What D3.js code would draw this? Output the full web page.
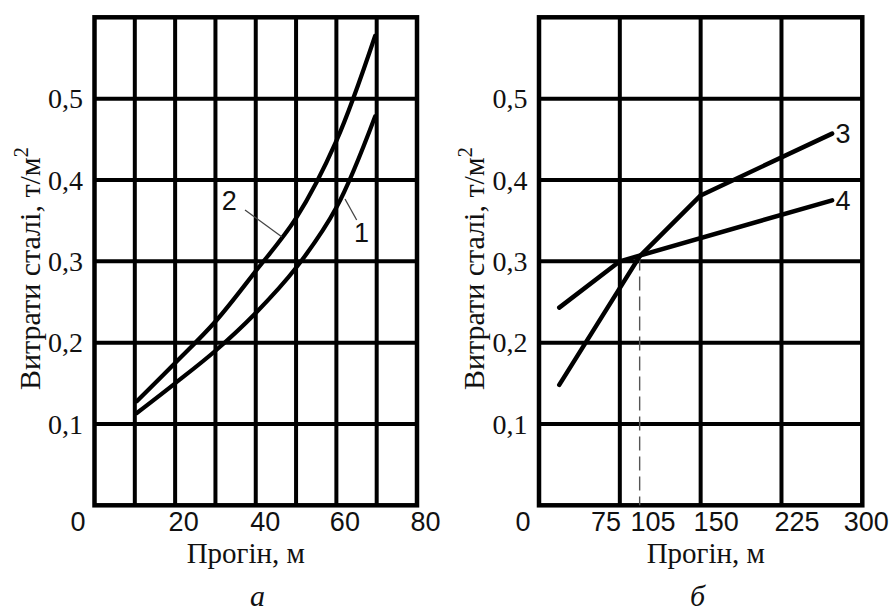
<!DOCTYPE html>
<html>
<head>
<meta charset="utf-8">
<script src="https://cdn.jsdelivr.net/npm/d3@7"></script>
<style>
  html, body { margin: 0; padding: 0; background: #fff; }
  svg { display: block; }
</style>
</head>
<body>
<svg id="chart" width="894" height="613"></svg>
<script>
// ---------- data ----------
const spanA = [10.5, 20, 30, 40, 50, 60, 69.6];
const steel1 = [0.1135, 0.150, 0.190, 0.2365, 0.292, 0.366, 0.478];
const steel2 = [0.128, 0.175, 0.226, 0.288, 0.353, 0.448, 0.577];

const spanB3 = [18.8, 93.4, 150, 272];
const steel3 = [0.148, 0.306, 0.381, 0.457];
const spanB4 = [18.8, 75, 272];
const steel4 = [0.243, 0.300, 0.375];

const crossSpan = 93.4;
const crossSteel = 0.306;

const xTicksA = [0, 20, 40, 60, 80];
const xTicksB = [0, 75, 105, 150, 225, 300];
const yTicks = [0.1, 0.2, 0.3, 0.4, 0.5];
const gridA = [10, 20, 30, 40, 50, 60, 70];
const gridB = [75, 150, 225];

const yTitle = "Витрати сталі, т/м";
const xTitle = "Прогін, м";
const panelNames = ["а", "б"];

// ---------- layout ----------
const svg = d3.select("#chart");
const SERIF = "'Liberation Serif', 'Times New Roman', serif";
const SANS = "'Liberation Sans', Arial, sans-serif";

const y = d3.scaleLinear().domain([0, 0.6]).range([505.3, 17.3]);
const xA = d3.scaleLinear().domain([0, 80]).range([94.5, 417]);
const xB = d3.scaleLinear().domain([0, 300]).range([539, 862.3]);

const tickDxA = {0: -17, 20: 8, 40: 9, 60: 8, 80: 8};
const tickDxB = {0: -16.5, 75: -14.4, 105: 0.4, 150: 15, 225: 15, 300: 3.5};

function panel(x, grid, xTicks, tickDx, titleX) {
  const g = svg.append("g");
  // grid
  g.selectAll("line.v").data(grid).enter().append("line")
    .attr("x1", d => x(d)).attr("x2", d => x(d))
    .attr("y1", y(0)).attr("y2", y(0.6))
    .attr("stroke", "#000").attr("stroke-width", 4);
  g.selectAll("line.h").data(yTicks).enter().append("line")
    .attr("x1", x.range()[0]).attr("x2", x.range()[1])
    .attr("y1", d => y(d)).attr("y2", d => y(d))
    .attr("stroke", "#000").attr("stroke-width", 4);
  // frame
  g.append("rect")
    .attr("x", x.range()[0]).attr("y", y(0.6))
    .attr("width", x.range()[1] - x.range()[0])
    .attr("height", y(0) - y(0.6))
    .attr("fill", "none").attr("stroke", "#000").attr("stroke-width", 4.5);

  // x axis labels
  const ax = g.append("g").attr("transform", `translate(0,${y(0)})`)
    .call(d3.axisBottom(x).tickValues(xTicks).tickSize(0).tickPadding(0).tickFormat(d3.format("d")));
  ax.select(".domain").remove();
  ax.selectAll("text")
    .attr("font-family", SANS).attr("font-size", 27).attr("fill", "#111")
    .attr("y", 26).attr("dy", 0)
    .attr("dx", d => tickDx[d] || 0);

  // y axis labels
  const ay = g.append("g").attr("transform", `translate(${x.range()[0]},0)`)
    .call(d3.axisLeft(y).tickValues(yTicks).tickSize(0).tickPadding(11.5)
      .tickFormat(d => d.toFixed(1).replace(".", ",")));
  ay.select(".domain").remove();
  ay.selectAll("text")
    .attr("font-family", SERIF).attr("font-size", 28).attr("fill", "#111")
    .attr("dy", "0.33em");

  // y title
  const yt = g.append("text")
    .attr("transform", `translate(${x.range()[0] - 55},390) rotate(-90)`)
    .attr("font-family", SERIF).attr("font-size", 30).attr("fill", "#111")
    .attr("text-anchor", "start");
  yt.append("tspan").text(yTitle);
  yt.append("tspan").attr("font-size", 20).attr("dy", -12).text("2");

  // x title
  g.append("text").attr("x", titleX).attr("y", 563)
    .attr("font-family", SERIF).attr("font-size", 29).attr("fill", "#111")
    .attr("text-anchor", "middle").text(xTitle);
  return g;
}

const gA = panel(xA, gridA, xTicksA, tickDxA, 245.8);
const gB = panel(xB, gridB, xTicksB, tickDxB, 705.8);

// panel names
svg.selectAll("text.pname").data(panelNames).enter().append("text")
  .attr("x", (d, i) => i === 0 ? 257.5 : 697.5).attr("y", 606)
  .attr("font-family", SERIF).attr("font-style", "italic").attr("font-size", 30)
  .attr("fill", "#111").attr("text-anchor", "middle").text(d => d);

// ---------- curves panel a ----------
const lineA = d3.line().x(d => xA(d[0])).y(d => y(d[1])).curve(d3.curveCatmullRom.alpha(0.5));
[steel1, steel2].forEach(s => {
  gA.append("path").datum(spanA.map((v, i) => [v, s[i]]))
    .attr("d", lineA).attr("fill", "none").attr("stroke", "#000")
    .attr("stroke-width", 4.2).attr("stroke-linecap", "round");
});

// labels with leaders
gA.append("line").attr("x1", 245).attr("y1", 210).attr("x2", 281.7).attr("y2", 236.7)
  .attr("stroke", "#444").attr("stroke-width", 1.3);
gA.append("line").attr("x1", 356.7).attr("y1", 220).attr("x2", 345).attr("y2", 199)
  .attr("stroke", "#444").attr("stroke-width", 1.3);
gA.append("text").attr("x", 229.3).attr("y", 210).attr("text-anchor", "middle")
  .attr("font-family", SANS).attr("font-size", 27).attr("fill", "#111").text("2");
gA.append("text").attr("x", 361.5).attr("y", 241.7).attr("text-anchor", "middle")
  .attr("font-family", SANS).attr("font-size", 27).attr("fill", "#111").text("1");

// ---------- lines panel b ----------
const lineB = d3.line().x(d => xB(d[0])).y(d => y(d[1]));
gB.append("line")
  .attr("x1", xB(crossSpan)).attr("x2", xB(crossSpan))
  .attr("y1", y(crossSteel)).attr("y2", y(0))
  .attr("stroke", "#555").attr("stroke-width", 1.4).attr("stroke-dasharray", "14,6");
[[spanB3, steel3], [spanB4, steel4]].forEach(([xs, s]) => {
  gB.append("path").datum(xs.map((v, i) => [v, s[i]]))
    .attr("d", lineB).attr("fill", "none").attr("stroke", "#000")
    .attr("stroke-width", 4.5).attr("stroke-linecap", "round").attr("stroke-linejoin", "round");
});
gB.append("text").attr("x", 835.5).attr("y", y(steel3[steel3.length - 1]) + 9.5)
  .attr("font-family", SANS).attr("font-size", 27).attr("fill", "#111").text("3");
gB.append("text").attr("x", 835.5).attr("y", y(steel4[steel4.length - 1]) + 9.5)
  .attr("font-family", SANS).attr("font-size", 27).attr("fill", "#111").text("4");
</script>
</body>
</html>
